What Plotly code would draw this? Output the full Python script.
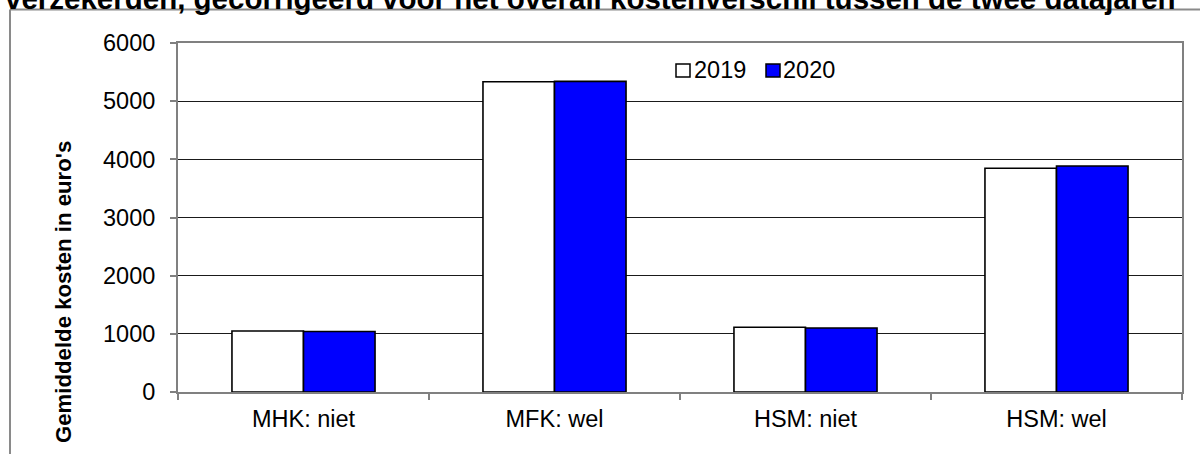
import plotly.graph_objects as go

# Gemiddelde kosten per groep, twee datajaren
categories = ["MHK: niet", "MFK: wel", "HSM: niet", "HSM: wel"]
series_names = ["2019", "2020"]
values_2019 = [1048, 5334, 1112, 3846]
values_2020 = [1040, 5340, 1100, 3885]
y_ticks = [0, 1000, 2000, 3000, 4000, 5000, 6000]

title_text = "verzekerden, gecorrigeerd voor het overall kostenverschil tussen de twee datajaren"
y_title = "Gemiddelde kosten in euro's"

W, H = 1200, 454
L, R, T, B = 178, 18, 43, 62
PW, PH = W - L - R, H - T - B

def px_x(px):
    return (px - L) / PW

def px_y(py):
    return (H - B - py) / PH

FONT = "Liberation Sans, Arial, sans-serif"
FS = 23.5
fills = ["#FFFFFF", "#0000FF"]
series_values = [values_2019, values_2020]

fig = go.Figure()
for name, vals, col in zip(series_names, series_values, fills):
    fig.add_trace(go.Bar(
        x=categories, y=vals, name=name,
        marker=dict(color=col, line=dict(color="#000000", width=1.6)),
        showlegend=False,
    ))

fig.update_layout(
    width=W, height=H,
    margin=dict(l=L, r=R, t=T, b=B, pad=0),
    paper_bgcolor="white", plot_bgcolor="white",
    barmode="group", bargap=0.43, bargroupgap=0,
    font=dict(family=FONT, size=FS, color="#000000"),
)

fig.update_xaxes(
    showline=True, linecolor="#808080", linewidth=2, mirror=True,
    ticks="outside", tickson="boundaries", ticklen=6, tickcolor="#808080", tickwidth=1.5,
    showgrid=False, zeroline=False,
    tickfont=dict(family=FONT, size=FS, color="#000000"),
    ticklabelstandoff=5,
)
fig.update_yaxes(
    range=[0, 6000], tickvals=y_ticks, ticktext=[str(v) for v in y_ticks],
    showline=True, linecolor="#808080", linewidth=2, mirror=True,
    ticks="outside", ticklen=6, tickcolor="#808080", tickwidth=1.5,
    showgrid=True, gridcolor="#1a1a1a", gridwidth=1, zeroline=False,
    tickfont=dict(family=FONT, size=FS, color="#000000"),
    ticklabelstandoff=10,
)

# Outer chart frame (grey)
fig.add_shape(type="line", xref="paper", yref="paper",
              x0=px_x(10), x1=px_x(1205), y0=px_y(9.5), y1=px_y(9.5),
              line=dict(color="#8a8a8a", width=2))
fig.add_shape(type="line", xref="paper", yref="paper",
              x0=px_x(10), x1=px_x(10), y0=px_y(9.5), y1=px_y(460),
              line=dict(color="#8a8a8a", width=2))

# Title (partly above the page edge)
fig.add_annotation(text="<b>" + title_text + "</b>", xref="paper", yref="paper",
                   x=px_x(590), y=px_y(-2), xanchor="center", yanchor="middle",
                   showarrow=False, font=dict(family=FONT, size=29.5, color="#000000"))

# Y-axis title
fig.add_annotation(text="<b>" + y_title + "</b>", xref="paper", yref="paper",
                   x=px_x(63), y=px_y(292), xanchor="center", yanchor="middle",
                   textangle=-90, showarrow=False,
                   font=dict(family=FONT, size=22.2, color="#000000"))

# Legend: square swatch followed by the series name
legend_items = [(676, 694), (766, 783)]
for (sq_x, txt_x), name, col in zip(legend_items, series_names, fills):
    fig.add_shape(type="rect", xref="paper", yref="paper",
                  x0=px_x(sq_x), x1=px_x(sq_x + 14), y0=px_y(77), y1=px_y(64),
                  fillcolor=col, line=dict(color="#000000", width=1.5))
    fig.add_annotation(text=name, xref="paper", yref="paper",
                       x=px_x(txt_x), y=px_y(70.5), xanchor="left", yanchor="middle",
                       showarrow=False, xshift=-2,
                       font=dict(family=FONT, size=FS, color="#000000"))

fig.write_html("out.html")
